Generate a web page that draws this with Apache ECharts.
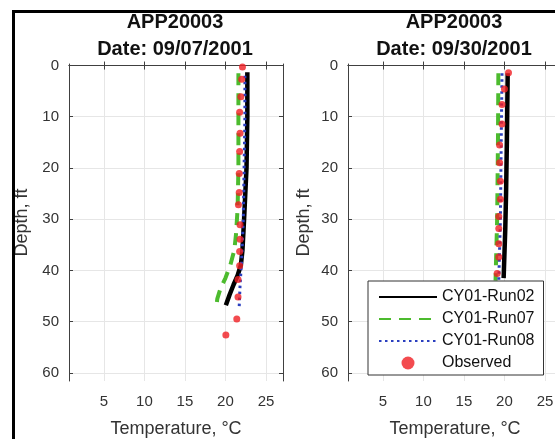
<!DOCTYPE html>
<html>
<head>
<meta charset="utf-8">
<script src="https://cdn.jsdelivr.net/npm/echarts@6/dist/echarts.min.js"></script>
<style>
    html, body { margin: 0; padding: 0; background: #fff; }
    #chart { width: 555px; height: 439px; }
</style>
</head>
<body>
<div id="chart"></div>
<script>
// panel titles
const panelTitles = ['APP20003\nDate: 09/07/2001', 'APP20003\nDate: 09/30/2001'];
const seriesNames = ['CY01-Run02', 'CY01-Run07', 'CY01-Run08', 'Observed'];
const tempTicks = [5, 10, 15, 20, 25];
const depthTicks = [0, 10, 20, 30, 40, 50, 60];

// 09/07/2001
const run02DepthA = [1.3, 10, 20, 30, 36, 39, 41, 42.8, 44.8, 46.8];
const run02TempA = [22.7, 22.7, 22.6, 22.3, 22.1, 21.9, 21.5, 21.0, 20.5, 20.05];
const run07DepthA = [1.5, 10, 20, 28, 33, 36, 39, 41.5, 43.5, 45.5, 46.8];
const run07TempA = [21.6, 21.6, 21.6, 21.5, 21.3, 21.1, 20.6, 20.0, 19.4, 19.0, 18.9];
const run08DepthA = [2, 10, 20, 30, 38, 43, 47];
const run08TempA = [22.4, 22.4, 22.3, 22.2, 22.0, 21.8, 21.7];
const obsDepthA = [0.3, 2.7, 6.1, 9.1, 13.2, 16.8, 21.1, 24.8, 27.2, 31.1, 33.9, 36.3, 39.1, 41.8, 45.2, 49.5, 52.6];
const obsTempA = [22.1, 22.0, 21.9, 21.75, 21.8, 21.75, 21.7, 21.7, 21.6, 21.8, 21.8, 21.75, 21.75, 21.55, 21.55, 21.4, 20.05];

// 09/30/2001
const run02DepthB = [1.5, 15, 25, 32, 41.5];
const run02TempB = [20.4, 20.3, 20.2, 20.1, 19.9];
const run07DepthB = [1.5, 15, 30, 42];
const run07TempB = [19.25, 19.2, 19.1, 18.9];
const run08DepthB = [1.5, 15, 30, 42];
const run08TempB = [19.7, 19.6, 19.5, 19.3];
const obsDepthB = [1.4, 4.6, 7.6, 11.4, 15.5, 19.0, 22.6, 26.1, 29.5, 31.8, 34.8, 37.4, 40.6];
const obsTempB = [20.5, 20.0, 19.7, 19.7, 19.4, 19.4, 19.5, 19.5, 19.3, 19.3, 19.3, 19.3, 19.1];

const zip = (xs, ys) => xs.map((x, i) => [x, ys[i]]);

const axisColor = '#404040';
const textColor = '#333';
const font = 'Liberation Sans, Arial, sans-serif';

const grids = [
    {left: 69, top: 64, width: 214, height: 317, outerBoundsMode: 'none'},
    {left: 348, top: 64, width: 214, height: 317, outerBoundsMode: 'none'},
];

const makeXAxes = (gi) => [
    {
        type: 'value', gridIndex: gi, position: 'bottom',
        min: 0.7, max: 27.1,
        name: 'Temperature, °C', nameLocation: 'middle', nameGap: 39,
        nameTextStyle: {fontFamily: font, fontSize: 18, color: textColor},
        axisLine: {lineStyle: {color: axisColor, width: 1}},
        axisTick: {inside: true, length: 4, customValues: tempTicks, lineStyle: {color: axisColor}},
        axisLabel: {customValues: tempTicks, margin: 13, fontFamily: font, fontSize: 15, color: textColor},
        splitLine: {show: true, lineStyle: {color: '#e6e6e6'}},
    },
    {
        type: 'value', gridIndex: gi, position: 'top',
        min: 0.7, max: 27.1,
        axisLine: {lineStyle: {color: axisColor, width: 1}},
        axisTick: {inside: true, length: 4, customValues: tempTicks, lineStyle: {color: axisColor}},
        axisLabel: {show: false},
        splitLine: {show: false},
    },
];

const makeYAxes = (gi, gap) => [
    {
        type: 'value', gridIndex: gi, position: 'left', inverse: true,
        min: -0.3, max: 61.6,
        name: 'Depth, ft', nameLocation: 'middle', nameGap: gap,
        nameTextStyle: {fontFamily: font, fontSize: 18, color: textColor},
        axisLine: {show: true, lineStyle: {color: axisColor, width: 1}},
        axisTick: {show: true, inside: true, length: 4, customValues: depthTicks, lineStyle: {color: axisColor}},
        axisLabel: {customValues: depthTicks, margin: 10, fontFamily: font, fontSize: 15, color: textColor},
        splitLine: {show: true, lineStyle: {color: '#e6e6e6'}},
    },
    {
        type: 'value', gridIndex: gi, position: 'right', inverse: true,
        min: -0.3, max: 61.6,
        axisLine: {show: true, lineStyle: {color: axisColor, width: 1}},
        axisTick: {show: true, inside: true, length: 4, customValues: depthTicks, lineStyle: {color: axisColor}},
        axisLabel: {show: false},
        splitLine: {show: false},
    },
];

const lineStyles = [
    {color: '#000000', width: 4.5, type: 'solid'},
    {color: '#4cbb2e', width: 4, type: [12, 8]},
    {color: '#2a3fbf', width: 3, type: [2.5, 3.5]},
];

const makeSeries = (gi, sets, obs) => {
    const out = sets.map((d, i) => ({
        type: 'line',
        name: seriesNames[i],
        xAxisIndex: gi * 2, yAxisIndex: gi * 2,
        data: d,
        symbol: 'none',
        lineStyle: lineStyles[i],
        itemStyle: {color: lineStyles[i].color},
        z: 2 + i,
        animation: false,
    }));
    out.push({
        type: 'scatter',
        name: seriesNames[3],
        xAxisIndex: gi * 2, yAxisIndex: gi * 2,
        data: obs,
        symbol: 'circle',
        symbolSize: 7,
        itemStyle: {color: '#f01e23'},
        z: 6,
        animation: false,
    });
    return out;
};

const chart = echarts.init(document.getElementById('chart'), null, {renderer: 'canvas'});

chart.setOption({
    backgroundColor: '#fff',
    animation: false,
    title: panelTitles.map((t, i) => ({
        text: t,
        left: i === 0 ? 170 : 449,
        top: 4,
        textAlign: 'center',
        textStyle: {fontFamily: font, fontSize: 20, fontWeight: 'bold', color: '#111', lineHeight: 27},
    })),
    grid: grids,
    xAxis: [...makeXAxes(0), ...makeXAxes(1)],
    yAxis: [...makeYAxes(0, 38), ...makeYAxes(1, 35)],
    legend: {
        orient: 'vertical',
        left: 368, top: 281,
        data: seriesNames.map((n, i) => (i < 3 ? {name: n, itemStyle: {opacity: 0}} : {name: n})),
        itemWidth: 58, itemHeight: 13, itemGap: 6,
        padding: [8, 9, 4, 10],
        borderColor: '#333', borderWidth: 1,
        backgroundColor: '#fff',
        textStyle: {fontFamily: font, fontSize: 16, color: '#111'},
        z: 20,
    },
    series: [
        ...makeSeries(0, [zip(run02TempA, run02DepthA), zip(run07TempA, run07DepthA), zip(run08TempA, run08DepthA)], zip(obsTempA, obsDepthA)),
        ...makeSeries(1, [zip(run02TempB, run02DepthB), zip(run07TempB, run07DepthB), zip(run08TempB, run08DepthB)], zip(obsTempB, obsDepthB)),
    ],
    graphic: [
        {type: 'line', shape: {x1: 13.5, y1: 10, x2: 13.5, y2: 439}, style: {stroke: '#000', lineWidth: 3}, z: 100},
        {type: 'line', shape: {x1: 12, y1: 11.5, x2: 555, y2: 11.5}, style: {stroke: '#000', lineWidth: 3}, z: 100},
    ],
});
</script>
</body>
</html>
